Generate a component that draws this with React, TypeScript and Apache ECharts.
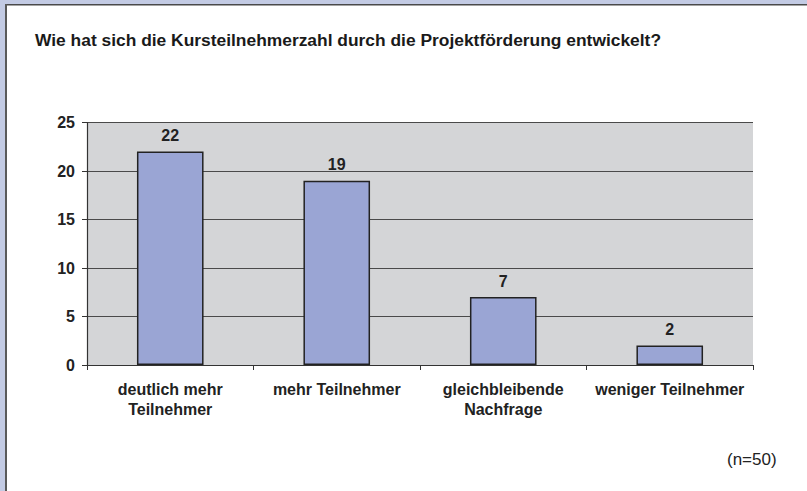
import React, { useEffect, useRef } from "react";
import * as echarts from "echarts";

const categories = [
  "deutlich mehr\nTeilnehmer",
  "mehr Teilnehmer",
  "gleichbleibende\nNachfrage",
  "weniger Teilnehmer",
];
const values = [22, 19, 7, 2];
const yTicks = { min: 0, max: 25, interval: 5 };
const titleText =
  "Wie hat sich die Kursteilnehmerzahl durch die Projektförderung entwickelt?";
const noteText = "(n=50)";

const FONT = "'Liberation Sans', Arial, Helvetica, sans-serif";

export default function App() {
  const ref = useRef<HTMLDivElement>(null);
  useEffect(() => {
    document.body.style.margin = "0";
    const chart = echarts.init(ref.current!, null, { renderer: "svg" });
    chart.setOption({
      animation: false,
      backgroundColor: "#ffffff",
      textStyle: { fontFamily: FONT },
      graphic: [
        { type: "rect", shape: { x: 0, y: 0, width: 807, height: 4 }, style: { fill: "#c3cbe4" }, silent: true },
        { type: "rect", shape: { x: 0, y: 0, width: 5, height: 491 }, style: { fill: "#c3cbe4" }, silent: true },
        { type: "rect", shape: { x: 5, y: 4, width: 802, height: 1.5 }, style: { fill: "#4a4a4a" }, silent: true },
        { type: "rect", shape: { x: 5, y: 4, width: 2, height: 487 }, style: { fill: "#5a5a5a" }, silent: true },
        {
          type: "text",
          left: 35,
          top: 31,
          style: {
            text: titleText,
            font: `bold 17.4px ${FONT}`,
            fill: "#1a1a1a",
          },
        },
        {
          type: "text",
          left: 727,
          top: 451,
          style: {
            text: noteText,
            font: `17px ${FONT}`,
            fill: "#222",
          },
        },
      ],
      grid: {
        left: 87,
        right: 54,
        top: 122.5,
        bottom: 126,
        show: true,
        backgroundColor: "#d4d5d7",
        borderWidth: 0,
      },
      xAxis: {
        type: "category",
        data: categories,
        axisLine: { show: true, lineStyle: { color: "#333", width: 1.2 } },
        axisTick: { show: true, length: 5, alignWithLabel: false, lineStyle: { color: "#333" } },
        axisLabel: {
          interval: 0,
          margin: 14,
          fontSize: 16,
          fontWeight: "bold",
          color: "#222",
          lineHeight: 20,
          fontFamily: FONT,
        },
      },
      yAxis: {
        type: "value",
        min: yTicks.min,
        max: yTicks.max,
        interval: yTicks.interval,
        axisLine: { show: true, lineStyle: { color: "#333", width: 1.2 } },
        axisTick: { show: true, length: 5, lineStyle: { color: "#333" } },
        axisLabel: {
          margin: 12,
          fontSize: 16,
          fontWeight: "bold",
          color: "#222",
          fontFamily: FONT,
        },
        splitLine: { show: true, lineStyle: { color: "#4a4a4a", width: 1 } },
      },
      series: [
        {
          type: "bar",
          data: values,
          barWidth: "40%",
          itemStyle: { color: "#9aa5d4", borderColor: "#222", borderWidth: 1.5 },
          label: {
            show: true,
            position: "top",
            distance: 8,
            fontSize: 16,
            fontWeight: "bold",
            color: "#222",
            fontFamily: FONT,
          },
        },
      ],
    });
    return () => chart.dispose();
  }, []);
  return <div ref={ref} style={{ width: 807, height: 491 }} />;
}
